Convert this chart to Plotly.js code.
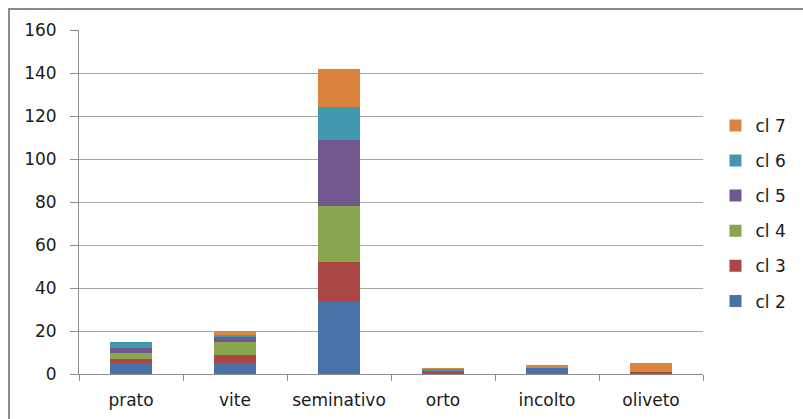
<!DOCTYPE html>
<html>
<head>
<meta charset="utf-8">
<script src="https://cdn.plot.ly/plotly-3.0.1.min.js"></script>
<style>
  html, body { margin: 0; padding: 0; background: #fff; }
  #frame { position: absolute; left: 8px; top: 8px; width: 900px; height: 500px;
           border-left: 2px solid #8c8c8c; border-top: 2px solid #8c8c8c; box-sizing: border-box; }
  #chart { position: absolute; left: 0; top: 0; width: 803px; height: 419px; }
</style>
</head>
<body>
<div id="frame"></div>
<div id="chart"></div>
<script>
// Land-use categories on the x axis
const categories = ["prato", "vite", "seminativo", "orto", "incolto", "oliveto"];

// Counts per class, stacked from cl 2 (bottom) to cl 7 (top)
const cl2 = [5, 5, 34, 0, 3, 0];
const cl3 = [2, 4, 18, 1, 0, 1];
const cl4 = [3, 6, 26, 0, 0, 0];
const cl5 = [2, 2, 31, 0.5, 0, 0];
const cl6 = [3, 1, 15, 1, 0, 0];
const cl7 = [0, 2, 18, 0.5, 1, 4];

const seriesNames = ["cl 2", "cl 3", "cl 4", "cl 5", "cl 6", "cl 7"];
const seriesValues = [cl2, cl3, cl4, cl5, cl6, cl7];
const seriesColors = ["#4A72A8", "#AA4643", "#89A54E", "#71588F", "#4198AF", "#DB843D"];

// Legend lists the top of the stack first
const traces = seriesNames.map((name, i) => ({
  type: "bar",
  name: name,
  x: categories,
  y: seriesValues[i],
  legendgroup: name,
  legendrank: seriesNames.length - i,
  marker: { color: seriesColors[i], line: { width: 0 } },
  hoverinfo: "x+y+name"
}));

const font = { family: "DejaVu Sans, sans-serif", size: 17, color: "#1a1a1a" };

const layout = {
  width: 803,
  height: 419,
  margin: { l: 79, r: 100, t: 30, b: 45 },
  paper_bgcolor: "rgba(0,0,0,0)",
  plot_bgcolor: "rgba(0,0,0,0)",
  barmode: "stack",
  bargap: 0.6,
  font: font,
  showlegend: true,
  legend: {
    x: 1.02, xanchor: "left",
    y: 0.467, yanchor: "middle",
    traceorder: "grouped",
    tracegroupgap: 10,
    font: font,
    bgcolor: "rgba(0,0,0,0)"
  },
  xaxis: {
    type: "category",
    showline: true,
    linecolor: "#8c8c8c",
    linewidth: 1,
    ticks: "outside",
    tickson: "boundaries",
    ticklen: 6,
    tickcolor: "#8c8c8c",
    ticklabelstandoff: 11,
    showgrid: false,
    zeroline: false,
    fixedrange: true
  },
  yaxis: {
    range: [0, 160],
    dtick: 20,
    showline: true,
    linecolor: "#8c8c8c",
    linewidth: 1,
    ticks: "outside",
    ticklen: 8,
    tickcolor: "#8c8c8c",
    ticklabelstandoff: 10,
    showgrid: true,
    gridcolor: "#a6a6a6",
    gridwidth: 1,
    zeroline: false,
    fixedrange: true
  }
};

Plotly.newPlot("chart", traces, layout, { displayModeBar: false, staticPlot: true });
</script>
</body>
</html>
